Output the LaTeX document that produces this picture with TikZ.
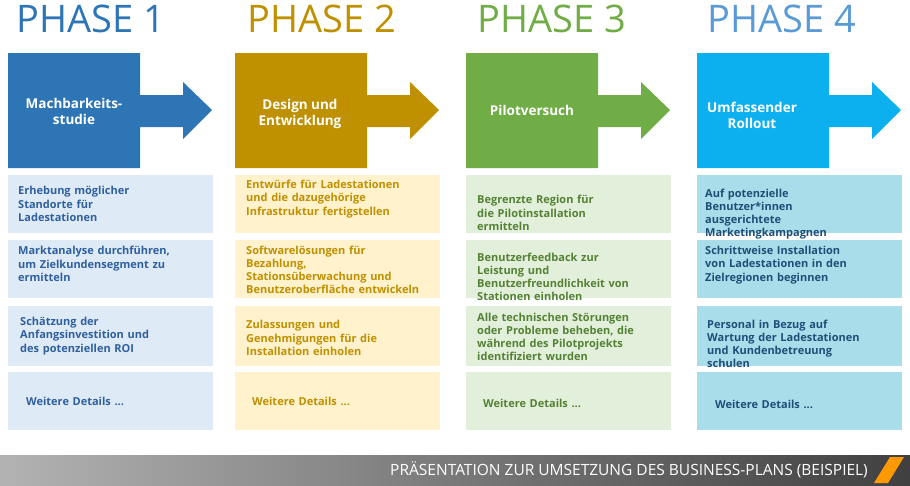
\documentclass[tikz,border=0pt]{standalone}
\usepackage{fontspec}
\setmainfont{Open Sans}
\usetikzlibrary{positioning,calc}
\definecolor{blueA}{HTML}{2E75B6}
\definecolor{blueL}{HTML}{DEEBF7}
\definecolor{blueT}{HTML}{2F5F9F}
\definecolor{goldA}{HTML}{BF9000}
\definecolor{goldL}{HTML}{FFF2CC}
\definecolor{greenA}{HTML}{70AD47}
\definecolor{greenL}{HTML}{E2EFDA}
\definecolor{greenT}{HTML}{548235}
\definecolor{cyanA}{HTML}{0DB0EE}
\definecolor{cyanP}{HTML}{5B9BD5}
\definecolor{cyanL}{HTML}{A8DDE9}
\definecolor{cyanT}{HTML}{1F4E79}
\tikzset{
    phase/.style = {anchor=west, inner sep=0pt, font=\fontsize{38}{38}\selectfont},
    cell/.style = {anchor=west, inner sep=0pt, align=left, text width=190pt,
        font=\fontsize{11}{13.2}\selectfont\bfseries},
    steptext/.style = {text=white, align=center, font=\fontsize{13.5}{16}\selectfont\bfseries}
}
% arrow shape: #1 = left x, #2 = colour
\newcommand{\phasearrow}[2]{%
    \fill[#2] (#1,-53) -- ++(132,0) -- ++(0,-42) -- ++(43,0) -- ++(0,13) -- ++(29,-28)
        -- ++(-29,-29) -- ++(0,12) -- ++(-43,0) -- ++(0,-41) -- ++(-132,0) -- cycle;
}
\begin{document}
\begin{tikzpicture}[x=1pt,y=1pt]
    \useasboundingbox (0,0) rectangle (910,-485);
    % phase titles
    \node[phase, text=blueA] (t1) at (16,-19) {PHASE 1};
    \node[phase, text=goldA] (t2) at (247,-19) {PHASE 2};
    \node[phase, text=greenA] (t3) at (477,-19) {PHASE 3};
    \node[phase, text=cyanP] (t4) at (707,-19) {PHASE 4};
    % arrows
    \phasearrow{8}{blueA}
    \phasearrow{235}{goldA}
    \phasearrow{466}{greenA}
    \phasearrow{697}{cyanA}
    \node[steptext] (a1) at (74,-111) {Machbarkeits-\\studie};
    \node[steptext] (a2) at (300,-114) {Design und\\Entwicklung};
    \node[steptext] (a3) at (532,-110) {Pilotversuch};
    \node[steptext] (a4) at (752,-115) {Umfassender\\Rollout};
    % boxes
    \foreach \x/\c in {8/blueL,235/goldL,466/greenL,697/cyanL}{
        \fill[\c] (\x,-175) rectangle ++(205,-58);
        \fill[\c] (\x,-240) rectangle ++(205,-58);
        \fill[\c] (\x,-306) rectangle ++(205,-60);
        \fill[\c] (\x,-372) rectangle ++(205,-58);
    }
    % column 1
    \node[cell, text=blueT] (b11) at (18,-204) {Erhebung möglicher\\Standorte für\\Ladestationen};
    \node[cell, text=blueT] (b12) at (18,-264) {Marktanalyse durchführen,\\um Zielkundensegment zu\\ermitteln};
    \node[cell, text=blueT] (b13) at (20,-336) {Schätzung der\\Anfangsinvestition und\\des potenziellen ROI};
    \node[cell, text=blueT] (b14) at (26,-401) {Weitere Details ...};
    % column 2
    \node[cell, text=goldA] (b21) at (246,-199) {Entwürfe für Ladestationen\\und die dazugehörige\\Infrastruktur fertigstellen};
    \node[cell, text=goldA] (b22) at (246,-270) {Softwarelösungen für\\Bezahlung,\\Stationsüberwachung und\\Benutzeroberfläche entwickeln};
    \node[cell, text=goldA] (b23) at (246,-338) {Zulassungen und\\Genehmigungen für die\\Installation einholen};
    \node[cell, text=goldA] (b24) at (252,-401) {Weitere Details ...};
    % column 3
    \node[cell, text=greenT] (b31) at (477,-213) {Begrenzte Region für\\die Pilotinstallation\\ermitteln};
    \node[cell, text=greenT] (b32) at (477,-277) {Benutzerfeedback zur\\Leistung und\\Benutzerfreundlichkeit von\\Stationen einholen};
    \node[cell, text=greenT] (b33) at (477,-337) {Alle technischen Störungen\\oder Probleme beheben, die\\während des Pilotprojekts\\identifiziert wurden};
    \node[cell, text=greenT] (b34) at (483,-403) {Weitere Details ...};
    % column 4
    \node[cell, text=cyanT] (b41) at (705,-214) {Auf potenzielle\\Benutzer*innen\\ausgerichtete\\Marketingkampagnen};
    \node[cell, text=cyanT] (b42) at (705,-265) {Schrittweise Installation\\von Ladestationen in den\\Zielregionen beginnen};
    \node[cell, text=cyanT] (b43) at (707,-344) {Personal in Bezug auf\\Wartung der Ladestationen\\und Kundenbetreuung\\schulen};
    \node[cell, text=cyanT] (b44) at (715,-404) {Weitere Details ...};
    % footer
    \shade[left color=gray!60, right color=black!75] (0,-455) rectangle (910,-485);
    \fill[orange!80!yellow] (890,-457) -- (904,-457) -- (888,-483) -- (874,-483) -- cycle;
    \node[anchor=east, text=white, inner sep=0pt, font=\fontsize{15.5}{16}\selectfont] (foot) at (868,-470) {PRÄSENTATION ZUR UMSETZUNG DES BUSINESS-PLANS (BEISPIEL)};
\end{tikzpicture}
\end{document}
